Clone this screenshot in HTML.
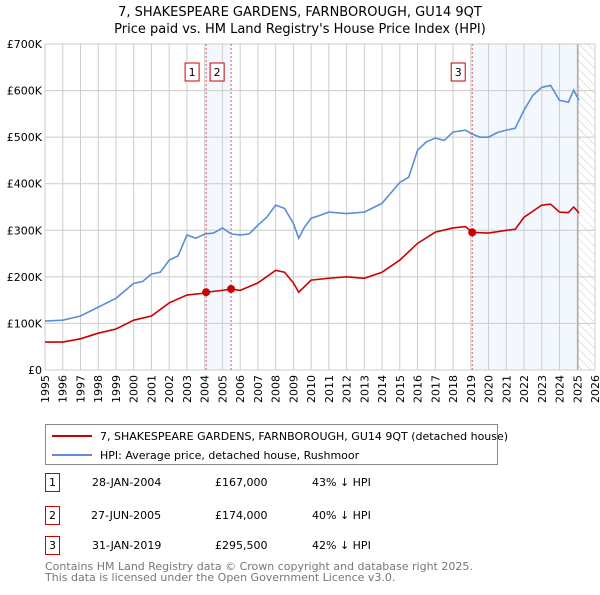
<!DOCTYPE html>
<html><head><meta charset="utf-8"><style>
body{margin:0;background:#fff;font-family:"Liberation Sans","DejaVu Sans",sans-serif;}
svg text{font-family:"DejaVu Sans","Liberation Sans",sans-serif;}
</style></head><body>
<svg id="chart" width="600" height="590" xmlns="http://www.w3.org/2000/svg">
<defs><pattern id="hatch" patternUnits="userSpaceOnUse" width="6" height="6" patternTransform="rotate(-45)"><line x1="0" y1="0" x2="0" y2="6" stroke="#ccc" stroke-width="1"/></pattern></defs>
<text x="300" y="16" text-anchor="middle" font-size="13">7, SHAKESPEARE GARDENS, FARNBOROUGH, GU14 9QT</text>
<text x="300" y="33" text-anchor="middle" font-size="13">Price paid vs. HM Land Registry's House Price Index (HPI)</text>
<g id="plot"></g>
<g>
<rect x="45.5" y="424.5" width="452" height="40" fill="#fff" stroke="#888"/>
<line x1="52" y1="436" x2="92" y2="436" stroke="#cc0000" stroke-width="2"/>
<text x="100" y="440" font-size="11">7, SHAKESPEARE GARDENS, FARNBOROUGH, GU14 9QT (detached house)</text>
<line x1="52" y1="455" x2="92" y2="455" stroke="#5b8ed6" stroke-width="2"/>
<text x="100" y="459" font-size="11">HPI: Average price, detached house, Rushmoor</text>
</g>
<g font-size="11">
<rect x="45.5" y="473.5" width="14" height="18" fill="#fff" stroke="#cc0000"/><text x="52.5" y="486" text-anchor="middle">1</text>
<text x="92" y="486">28-JAN-2004</text><text x="215" y="486">£167,000</text><text x="312" y="486">43% ↓ HPI</text>
<rect x="45.5" y="506.5" width="14" height="18" fill="#fff" stroke="#cc0000"/><text x="52.5" y="519" text-anchor="middle">2</text>
<text x="91" y="519">27-JUN-2005</text><text x="215" y="519">£174,000</text><text x="312" y="519">40% ↓ HPI</text>
<rect x="45.5" y="536.5" width="14" height="18" fill="#fff" stroke="#cc0000"/><text x="52.5" y="549" text-anchor="middle">3</text>
<text x="92" y="549">31-JAN-2019</text><text x="215" y="549">£295,500</text><text x="312" y="549">42% ↓ HPI</text>
</g>
<text x="45" y="570" font-size="11" fill="#777">Contains HM Land Registry data © Crown copyright and database right 2025.</text>
<text x="45" y="581" font-size="11" fill="#777">This data is licensed under the Open Government Licence v3.0.</text>
</svg>
<script>
const hpiYears=[1995,1996,1997,1998,1999,2000,2000.5,2001,2001.5,2002,2002.5,2003,2003.5,2004,2004.5,2005,2005.5,2006,2006.5,2007,2007.5,2008,2008.5,2009,2009.3,2009.6,2010,2010.5,2011,2012,2013,2014,2015,2015.5,2016,2016.5,2017,2017.5,2018,2018.7,2019,2019.5,2020,2020.5,2021,2021.5,2022,2022.5,2023,2023.5,2024,2024.5,2024.8,2025.1];
const hpiValues=[105,107,116,135,154,186,190,206,210,236,245,290,283,292,294,305,292,290,292,311,328,354,347,315,283,305,326,332,339,336,339,358,403,414,472,490,498,493,511,515,508,500,500,510,515,519,558,590,607,611,579,575,601,579];
const ppYears=[1995,1996,1997,1998,1999,2000,2001,2002,2003,2004,2004.08,2005,2005.49,2006,2007,2008,2008.5,2009,2009.3,2010,2011,2012,2013,2014,2015,2016,2017,2018,2018.7,2019.08,2020,2021,2021.5,2022,2023,2023.5,2024,2024.5,2024.8,2025.1];
const ppValues=[60,60,67,79,88,107,116,144,161,165,167,171,174,171,187,214,210,187,167,193,197,200,197,210,236,272,296,305,308,295.5,294,300,302,328,354,356,339,338,350,337];
const saleYears=[2004.08,2005.49,2019.08];
const saleValues=[167,174,295.5];
const saleLabels=["1","2","3"];
const yTicks=[0,100,200,300,400,500,600,700];
const xTicks=[1995,1996,1997,1998,1999,2000,2001,2002,2003,2004,2005,2006,2007,2008,2009,2010,2011,2012,2013,2014,2015,2016,2017,2018,2019,2020,2021,2022,2023,2024,2025,2026];

const X0=45,X1=595,Y0=370,Y1=44;
const sx=y=>X0+(y-1995)/(2026-1995)*(X1-X0);
const sy=v=>Y0-v/700*(Y0-Y1);
const NS="http://www.w3.org/2000/svg";
const g=document.getElementById('plot');
function mk(t,a,p){const e=document.createElementNS(NS,t);for(const k in a)e.setAttribute(k,a[k]);(p||g).appendChild(e);return e;}
let e=mk('rect',{x:sx(saleYears[0]),y:Y1,width:sx(saleYears[1])-sx(saleYears[0]),height:Y0-Y1,fill:'#f3f7fe'});


e=mk('rect',{x:sx(saleYears[2]),y:Y1,width:sx(2025.04)-sx(saleYears[2]),height:Y0-Y1,fill:'#f3f7fe'});


e=mk('rect',{x:sx(2025.04),y:Y1,width:X1-sx(2025.04),height:Y0-Y1,fill:'url(#hatch)'});


yTicks.forEach(v=>{
 e=mk('line',{x1:X0,x2:X1,y1:sy(v),y2:sy(v),stroke:'#ccc'});
 
 
 e=mk('text',{x:X0-3,y:sy(v)+4,'text-anchor':'end','font-size':11});
 e.textContent=v===0?'£0':'£'+v+'K';
 
 
});
xTicks.forEach(t=>{
 e=mk('line',{x1:sx(t),x2:sx(t),y1:Y1,y2:Y0,stroke:'#ccc'});
 
 
 const gg=mk('g',{transform:'translate('+(sx(t)+4)+','+(Y0+5)+') rotate(-90)'});
 e=mk('text',{x:0,y:0,'font-size':11,'text-anchor':'end'},gg);
 e.textContent=t;
 
 
});
e=mk('line',{x1:sx(2025.04),x2:sx(2025.04),y1:Y1,y2:Y0,stroke:'#999'});


saleYears.forEach((y,i)=>{
 e=mk('line',{x1:sx(y),x2:sx(y),y1:Y1,y2:Y0,stroke:'#e55','stroke-dasharray':'2,2'});
 
 
 e=mk('rect',{x:sx(y)-21,y:63,width:14,height:18,fill:'#fff',stroke:'#cc0000'});
 
 
 e=mk('text',{x:sx(y)-14,y:76,'text-anchor':'middle','font-size':11});
 e.textContent=saleLabels[i];
 
 
});
e=mk('polyline',{points:hpiYears.map((y,i)=>sx(y)+','+sy(hpiValues[i])).join(' '),fill:'none',stroke:'#5b8ed6','stroke-width':1.6});


e=mk('polyline',{points:ppYears.map((y,i)=>sx(y)+','+sy(ppValues[i])).join(' '),fill:'none',stroke:'#cc0000','stroke-width':1.6});


saleYears.forEach((y,i)=>{
 e=mk('circle',{cx:sx(y),cy:sy(saleValues[i]),r:4,fill:'#cc0000'});
 
 
});
</script>
</body></html>
